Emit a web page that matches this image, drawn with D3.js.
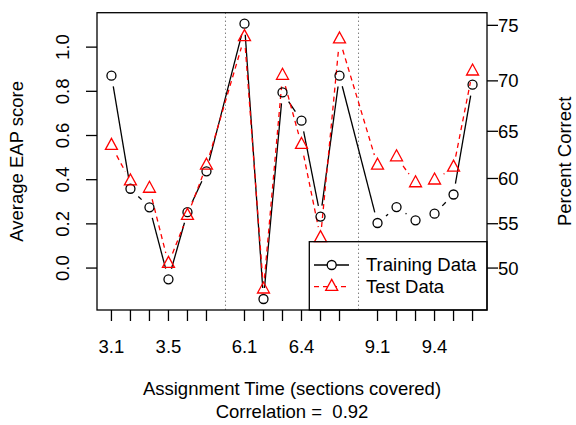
<!DOCTYPE html>
<html lang="en">
<head>
    <meta charset="UTF-8">
    <title>Average EAP score vs Percent Correct</title>
    <script src="https://d3js.org/d3.v7.min.js"></script>
    <style>
        body { margin: 0; background: #fff; }
        svg text { font-family: "Liberation Sans", Arial, sans-serif; font-size: 18.5px; fill: #000; }
    </style>
</head>
<body>
    <svg id="chart" width="576" height="425"></svg>
    <script>
        // positions on the x axis (gaps at 7 and 14 separate the chapters)
        const positions = [1, 2, 3, 4, 5, 6, 8, 9, 10, 11, 12, 13, 15, 16, 17, 18, 19, 20];
        const sectionLabels = ["3.1", "", "", "3.5", "", "", "6.1", "", "", "6.4", "", "", "9.1", "", "", "9.4", "", ""];
        const trainingEAP = [0.871, 0.359, 0.275, -0.051, 0.253, 0.438, 1.106, -0.140, 0.795, 0.667, 0.233, 0.871,
                             0.204, 0.276, 0.216, 0.246, 0.333, 0.830];
        const testPercent = [63.5, 59.7, 58.9, 50.5, 55.9, 61.4, 74.0, 47.6, 70.5, 63.6, 53.4, 73.8,
                             61.4, 62.3, 59.5, 59.8, 61.2, 70.9];
        const dividers = [7, 14];
        const leftTicks = [0, 0.2, 0.4, 0.6, 0.8, 1.0];
        const rightTicks = [50, 55, 60, 65, 70, 75];

        const svg = d3.select("#chart");
        const plot = { left: 97, right: 487, top: 12.7, bottom: 310 };

        // percent correct is plotted on the logit scale, sharing the left axis
        const logit = p => Math.log((p / 100) / (1 - p / 100));
        const testLogit = testPercent.map(logit);

        // R style 4% padding
        const xExt = d3.extent(positions);
        const xPad = (xExt[1] - xExt[0]) * 0.04;
        const x = d3.scaleLinear().domain([xExt[0] - xPad, xExt[1] + xPad]).range([plot.left, plot.right]);

        const yExt = d3.extent(trainingEAP.concat(testLogit));
        const yPad = (yExt[1] - yExt[0]) * 0.04;
        const y = d3.scaleLinear().domain([yExt[0] - yPad, yExt[1] + yPad]).range([plot.bottom, plot.top]);

        // dotted chapter dividers
        svg.selectAll("line.divider").data(dividers).join("line")
            .attr("x1", d => x(d)).attr("x2", d => x(d))
            .attr("y1", plot.top).attr("y2", plot.bottom)
            .attr("stroke", "#444").attr("stroke-width", 1)
            .attr("stroke-dasharray", "1,3");

        // lines with gaps around the points (type = "b")
        const gap = 11;
        function gappedSegments(xs, ys) {
            const segs = [];
            for (let i = 0; i < xs.length - 1; i++) {
                const x0 = x(xs[i]), y0 = y(ys[i]), x1 = x(xs[i + 1]), y1 = y(ys[i + 1]);
                const d = Math.hypot(x1 - x0, y1 - y0);
                if (d <= 2 * gap) continue;
                const f = gap / d;
                segs.push([x0 + (x1 - x0) * f, y0 + (y1 - y0) * f, x1 - (x1 - x0) * f, y1 - (y1 - y0) * f]);
            }
            return segs;
        }

        svg.selectAll("line.train").data(gappedSegments(positions, trainingEAP)).join("line")
            .attr("x1", d => d[0]).attr("y1", d => d[1]).attr("x2", d => d[2]).attr("y2", d => d[3])
            .attr("stroke", "#000").attr("stroke-width", 1.3);

        svg.selectAll("line.test").data(gappedSegments(positions, testLogit)).join("line")
            .attr("x1", d => d[0]).attr("y1", d => d[1]).attr("x2", d => d[2]).attr("y2", d => d[3])
            .attr("stroke", "#ff0000").attr("stroke-width", 1.3).attr("stroke-dasharray", "5,4");

        function triangle(cx, cy) {
            return `M${cx},${cy - 7.3}L${cx + 6},${cy + 3.7}L${cx - 6},${cy + 3.7}Z`;
        }

        svg.selectAll("circle.train").data(positions).join("circle")
            .attr("cx", d => x(d)).attr("cy", (d, i) => y(trainingEAP[i])).attr("r", 4.5)
            .attr("fill", "none").attr("stroke", "#000").attr("stroke-width", 1.3);

        svg.selectAll("path.test").data(positions).join("path")
            .attr("d", (d, i) => triangle(x(d), y(testLogit[i])))
            .attr("fill", "none").attr("stroke", "#ff0000").attr("stroke-width", 1.3);

        // frame
        svg.append("rect")
            .attr("x", plot.left).attr("y", plot.top)
            .attr("width", plot.right - plot.left).attr("height", plot.bottom - plot.top)
            .attr("fill", "none").attr("stroke", "#000").attr("stroke-width", 1.3);

        // bottom axis
        svg.selectAll("line.xtick").data(positions).join("line")
            .attr("x1", d => x(d)).attr("x2", d => x(d))
            .attr("y1", plot.bottom).attr("y2", plot.bottom + 11)
            .attr("stroke", "#000").attr("stroke-width", 1.3);
        svg.selectAll("text.xlab").data(positions).join("text")
            .attr("x", d => x(d)).attr("y", 352.7)
            .attr("text-anchor", "middle")
            .text((d, i) => sectionLabels[i]);

        // left axis
        svg.selectAll("line.ytick").data(leftTicks).join("line")
            .attr("x1", plot.left - 11).attr("x2", plot.left)
            .attr("y1", d => y(d)).attr("y2", d => y(d))
            .attr("stroke", "#000").attr("stroke-width", 1.3);
        svg.selectAll("text.ylab").data(leftTicks).join("text")
            .attr("transform", d => `translate(68.5,${y(d)}) rotate(-90)`)
            .attr("text-anchor", "middle")
            .text(d => d3.format(".1f")(d));

        // right axis (percent correct, logit positions)
        svg.selectAll("line.rtick").data(rightTicks).join("line")
            .attr("x1", plot.right).attr("x2", plot.right + 11)
            .attr("y1", d => y(logit(d))).attr("y2", d => y(logit(d)))
            .attr("stroke", "#000").attr("stroke-width", 1.3);
        svg.selectAll("text.rlab").data(rightTicks).join("text")
            .attr("x", 498).attr("y", d => y(logit(d)))
            .attr("dy", "0.35em")
            .text(d => d);

        // titles
        const midY = (plot.top + plot.bottom) / 2;
        const midX = (plot.left + plot.right) / 2;
        svg.append("text")
            .attr("transform", `translate(23,${midY}) rotate(-90)`)
            .attr("text-anchor", "middle")
            .text("Average EAP score");
        svg.append("text")
            .attr("transform", `translate(571,${midY}) rotate(-90)`)
            .attr("text-anchor", "middle")
            .text("Percent Correct");
        svg.append("text")
            .attr("x", midX).attr("y", 394.5)
            .attr("text-anchor", "middle")
            .text("Assignment Time (sections covered)");
        svg.append("text")
            .attr("x", midX).attr("y", 417.5)
            .attr("text-anchor", "middle")
            .text("Correlation =  0.92")
            .style("white-space", "pre");

        // legend
        const legend = svg.append("g");
        legend.append("rect")
            .attr("x", 309.3).attr("y", 241.7)
            .attr("width", plot.right - 309.3).attr("height", plot.bottom - 241.7)
            .attr("fill", "none").attr("stroke", "#000").attr("stroke-width", 1.3);
        const legendItems = [
            { name: "Training Data", color: "#000", dash: null, shape: "circle", cy: 265 },
            { name: "Test Data", color: "#ff0000", dash: "5,4", shape: "triangle", cy: 286.7 }
        ];
        legendItems.forEach(item => {
            legend.append("line")
                .attr("x1", 314).attr("x2", 349).attr("y1", item.cy).attr("y2", item.cy)
                .attr("stroke", item.color).attr("stroke-width", 1.3)
                .attr("stroke-dasharray", item.dash);
            if (item.shape === "circle") {
                legend.append("circle").attr("cx", 331.7).attr("cy", item.cy).attr("r", 4.5)
                    .attr("fill", "#fff").attr("stroke", item.color).attr("stroke-width", 1.3);
            } else {
                legend.append("path").attr("d", triangle(331.7, item.cy))
                    .attr("fill", "#fff").attr("stroke", item.color).attr("stroke-width", 1.3);
            }
            legend.append("text")
                .attr("x", 366).attr("y", item.cy).attr("dy", "0.35em")
                .text(item.name);
        });
    </script>
</body>
</html>
